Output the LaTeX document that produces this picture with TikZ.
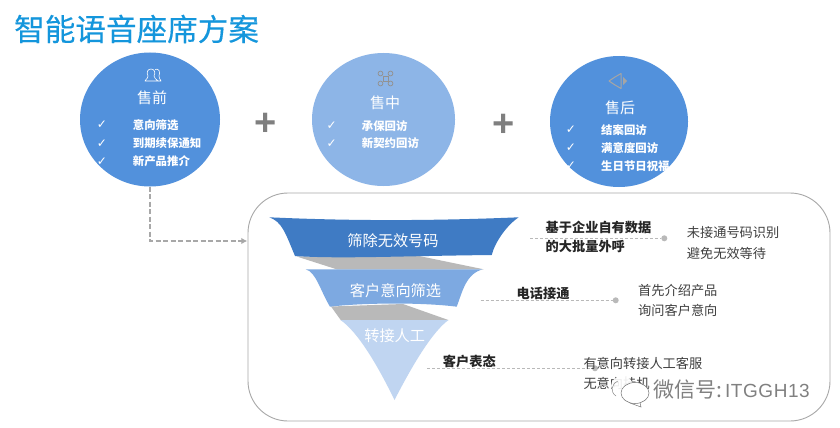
\documentclass[tikz,border=0pt]{standalone}
\usepackage{fontspec}
\setmainfont{Noto Sans CJK SC}
\newfontfamily\symfont{DejaVu Sans}
\newfontfamily\latinfont[LetterSpace=3]{Liberation Sans}
\newfontfamily\plainlatin{Liberation Sans}
\newfontfamily\titlefont[FakeBold=0.35]{Noto Sans CJK SC}
\definecolor{circA}{HTML}{5291DC}
\definecolor{circB}{HTML}{8DB5E7}
\definecolor{funA}{HTML}{3F7BC4}
\definecolor{funB}{HTML}{7DA9E1}
\definecolor{funC}{HTML}{C0D5F1}
\definecolor{funnelgray}{HTML}{B9B9B9}
\definecolor{titleblue}{HTML}{1496DC}
\definecolor{linegray}{HTML}{A8A8A8}
\definecolor{plusgray}{HTML}{7F7F7F}
\definecolor{textgray}{HTML}{404040}
\usetikzlibrary{shapes.geometric,arrows.meta}
\tikzset{
  x=1pt,y=-1pt,
  disc/.style={ellipse,inner sep=0pt,fill=#1,draw=none},
  head/.style={text=white,font=\fontsize{15}{15}\selectfont,inner sep=0pt},
  item/.style={text=white,font=\fontsize{11.4}{11.4}\selectfont\bfseries,anchor=west,inner sep=0pt},
  tick/.style={text=white,font=\symfont\fontsize{12}{12}\selectfont,inner sep=0pt},
  plusmark/.style={text=plusgray,font=\plainlatin\fontsize{38}{38}\selectfont\bfseries,inner sep=0pt},
  funtext/.style={text=white,font=\fontsize{15.2}{15.2}\selectfont,inner sep=0pt},
  lead/.style={draw=linegray!80,dash pattern=on 3pt off 2pt,line width=0.7pt},
  enddot/.style={circle,fill=linegray!80,inner sep=0pt,minimum size=6pt},
  boldlabel/.style={text=black!85,font=\fontsize{13.2}{13.2}\selectfont\bfseries,anchor=west,inner sep=0pt},
  note/.style={text=textgray,font=\fontsize{13.2}{13.2}\selectfont,anchor=west,inner sep=0pt},
}
\begin{document}
\begin{tikzpicture}
\useasboundingbox (0,0) rectangle (840,428);
\fill[white] (0,0) rectangle (840,428);
\node[text=titleblue,font=\titlefont\fontsize{30.6}{30.6}\selectfont,anchor=west,inner sep=0pt] (title) at (14,29) {智能语音座席方案};
% circles
\node[disc=circA,minimum width=140pt,minimum height=134pt] (pre) at (150,119.5) {};
\node[disc=circB,minimum width=143pt,minimum height=133pt] (mid) at (383.5,119.5) {};
\node[disc=circA,minimum width=138pt,minimum height=131pt] (post) at (619,121.5) {};
% icons
\draw[white,line width=0.6pt,line join=round] (145,81) .. controls (147,78) and (148,78) .. (148,76) .. controls (146,72) and (148,69) .. (151,69) .. controls (154,69) and (156,72) .. (154,76) .. controls (154,78) and (156,79) .. (158,81) -- cycle;
\draw[white,line width=0.6pt,line join=round] (155,69.5) .. controls (158,68) and (161,71) .. (159,76) .. controls (159,78) and (160,79) .. (161,81) -- (158,81);
\draw[plusgray!85,line width=0.8pt] (383,76) rectangle (388,81);
\foreach \cx/\cy in {380.5/73.5,390.5/73.5,380.5/83.5,390.5/83.5}\draw[plusgray!85,line width=0.8pt] (\cx,\cy) circle (2.4pt);
\draw[plusgray!70,line width=1pt,line join=round] (609,81) -- (615,77) -- (621,73.5) -- (621,88.5) -- (615,85) -- cycle;
\fill[plusgray!70] (623,77) -- (627,81) -- (623,85) -- cycle;
% circle text
\node[head] (preh) at (152,97.5) {售前};
\node[head] (midh) at (385,102.7) {售中};
\node[head] (posth) at (620,107.3) {售后};
\foreach \y/\t in {125/意向筛选,143.3/到期续保通知,161.5/新产品推介}{
  \node[tick] at (102,\y) {✓}; \node[item] at (132.7,\y) {\t};}
\foreach \y/\t in {125.7/承保回访,143.3/新契约回访}{
  \node[tick] at (331.7,\y) {✓}; \node[item] at (361.7,\y) {\t};}
\foreach \y/\t in {130/结案回访,148/满意度回访,166/生日节日祝福}{
  \node[tick] at (571,\y) {✓}; \node[item] at (601,\y) {\t};}
% plus
\node[plusmark] (p1) at (266,124) {+};
\node[plusmark] (p2) at (504,125.5) {+};
% panel
\draw[linegray,line width=0.9pt,rounded corners=40pt] (248,193) rectangle (830,421);
\node[inner sep=0pt,minimum size=0pt] (panelwest) at (247.5,241) {};
\draw[linegray,line width=2pt,dash pattern=on 5pt off 2.5pt,-{Latex[length=6pt,width=6.5pt]}] (pre.south) -- (pre.south |- panelwest) -- (panelwest);
% funnel
\fill[funnelgray] (296.7,256.5) -- (416.7,255.5) -- (483.7,269.3) -- (336.7,269.3) -- cycle;
\fill[funnelgray] (331,306.5) -- (403,304) -- (448.3,320) -- (340.7,320) -- cycle;
\fill[funA] (269.3,217.3) .. controls (282,222) and (285,232) .. (295,256) .. controls (340,259) and (400,256) .. (491.7,255) .. controls (495,242) and (507,225) .. (518.7,217.3) .. controls (430,221) and (350,221) .. (269.3,217.3) -- cycle;
\fill[funB] (305.7,269.3) .. controls (316,272) and (320,290) .. (330,306.7) .. controls (360,303) and (420,302) .. (456.7,306.7) .. controls (463,290) and (466,274) .. (482.7,269.3) -- cycle;
\fill[funC] (340.5,320) .. controls (358,332) and (378,366) .. (394.5,400) .. controls (412,366) and (432,332) .. (448.5,320) -- cycle;
\node[funtext] (f1) at (393,240.7) {筛除无效号码};
\node[funtext] (f2) at (395.5,290.7) {客户意向筛选};
\node[funtext] (f3) at (394.7,335.7) {转接人工};
% leaders
\node[enddot] (d1) at (664.3,238.3) {};
\node[enddot] (d2) at (615.7,300.3) {};
\node[enddot] (d3) at (595,368.3) {};
\coordinate (s1) at (530,238.3);
\coordinate (s2) at (480.7,300.3);
\coordinate (s3) at (427,368.3);
\draw[lead] (s1) -- (d1);
\draw[lead] (s2) -- (d2);
\draw[lead] (s3) -- (d3);
\node[boldlabel] (b1) at (545.5,227) {基于企业自有数据};
\node[boldlabel] (b2) at (545.5,246.5) {的大批量外呼};
\node[boldlabel] (b3) at (516.5,294) {电话接通};
\node[boldlabel] (b4) at (442.7,361.7) {客户表态};
\node[note] (n1) at (686.7,233) {未接通号码识别};
\node[note] (n2) at (686.7,253) {避免无效等待};
\node[note] (n3) at (638,290.3) {首先介绍产品};
\node[note] (n4) at (638,310) {询问客户意向};
\node[note] (n5) at (583.3,363) {有意向转接人工客服};
\node[note] (n6) at (583.3,383) {无意向挂机};
% watermark
\fill[white,fill opacity=.9] (622,386) ellipse (11pt and 10pt);
\fill[white] (635,393) ellipse (14pt and 10.5pt);
\draw[black!55,line width=0.5pt] (635,393) ellipse (14pt and 10.5pt);
\draw[black!45,line width=0.5pt] (616,396) .. controls (610,392) and (611,384) .. (618,381);
\draw[black!55,line width=0.5pt] (630,403) -- (641,407) -- (640,402.5);
\node[text=black!50,font=\fontsize{21}{21}\selectfont,anchor=west,inner sep=0pt] (wm) at (653,390) {微信号:\kern3pt{\latinfont\fontsize{19}{19}\selectfont ITGGH13}};
\end{tikzpicture}
\end{document}
